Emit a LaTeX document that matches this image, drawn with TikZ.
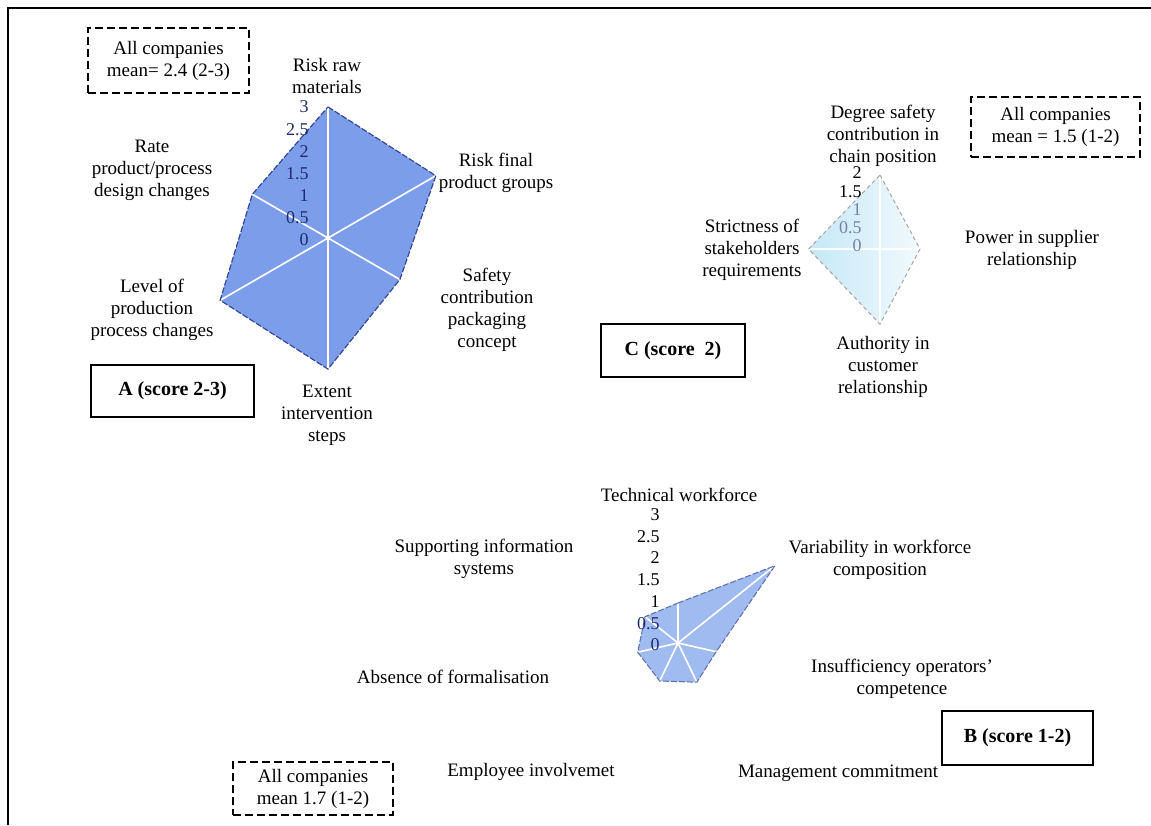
\documentclass[tikz,border=0pt]{standalone}
\usepackage{fontspec}
\setmainfont{Liberation Serif}
\usetikzlibrary{calc}
\definecolor{afill}{RGB}{124,158,234}
\definecolor{bfill}{RGB}{160,187,240}
\definecolor{cleft}{RGB}{196,232,248}
\definecolor{cright}{RGB}{242,250,253}
\definecolor{navy}{RGB}{32,42,110}
\definecolor{edgeblue}{RGB}{52,72,150}
\tikzset{
  lbl/.style={align=center, inner sep=0pt, font=\fontsize{9.5}{11}\selectfont},
  tick/.style={anchor=east, inner sep=0pt, font=\fontsize{9}{9}\selectfont},
  scorebox/.style={draw, line width=1.2pt, inner sep=0pt, font=\bfseries\fontsize{10}{12}\selectfont},
  meanbox/.style={draw, line width=1.1pt, dash pattern=on 4pt off 2pt, inner sep=0pt, align=center,
    font=\fontsize{9.5}{11}\selectfont},
  spoke/.style={white, line width=0.8pt},
  frameline/.style={line width=0.9pt}
}
\begin{document}
\begin{tikzpicture}[x=0.5pt,y=-0.5pt]
\useasboundingbox (0,0) rectangle (1151,825);
\fill[white] (0,0) rectangle (1151,825);

% outer frame (top and left edges)
\coordinate (ftl) at (8,8);
\coordinate (ftr) at (1151,8);
\coordinate (fbl) at (8,825);
\draw[frameline] (ftr) -- (ftl) -- (fbl);

% ---------- radar A (six axes) ----------
\coordinate (ac) at (328,238);
\foreach \i/\v in {0/3,1/2.85,2/1.9,3/3,4/2.85,5/2.0}{
  \path (ac) ++({43.7*\v*cos(90-60*\i)},{-43.7*\v*sin(90-60*\i)}) coordinate (a\i);
}
\fill[afill] (a0)--(a1)--(a2)--(a3)--(a4)--(a5)--cycle;
\foreach \i in {0,...,5} \draw[spoke] (ac)--(a\i);
\draw[edgeblue, line width=0.6pt, dash pattern=on 3pt off 1pt] (a0)--(a1)--(a2)--(a3)--(a4)--(a5)--cycle;
\foreach \t/\s in {0/0,0.5/0.5,1/1,1.5/1.5,2/2,2.5/2.5,3/3}{
  \node[tick, text=navy] at (309,{240-44.3*\t}) {\s};
}
\node[lbl] (araw)  at (327,76)  {Risk raw\\materials};
\node[lbl] (afin)  at (496,173) {Risk final\\product groups};
\node[lbl] (asaf)  at (487,310) {Safety\\contribution\\packaging\\concept};
\node[lbl] (aext)  at (327,415) {Extent\\intervention\\steps};
\node[lbl] (alev)  at (152,310) {Level of\\production\\process changes};
\node[lbl] (arate) at (152,170) {Rate\\product/process\\design changes};
\node[meanbox, minimum width=80.5pt, minimum height=32.5pt] (amean) at (168.5,60.5)
  {All companies\\mean= 2.4 (2-3)};
\node[scorebox, minimum width=81.5pt, minimum height=26pt] (ascore) at (172.5,391) {A (score 2-3)};

% ---------- radar C (four axes) ----------
\coordinate (cc) at (880,249);
\foreach \i/\v in {0/2,1/1.08,2/2.03,3/1.93}{
  \path (cc) ++({37*\v*cos(90-90*\i)},{-37*\v*sin(90-90*\i)}) coordinate (c\i);
}
\shade[left color=cleft, right color=cright] (c0)--(c1)--(c2)--(c3)--cycle;
\foreach \i in {0,...,3} \draw[white, line width=0.6pt] (cc)--(c\i);
\draw[gray!70, line width=0.5pt, dash pattern=on 2pt off 1.5pt] (c0)--(c1)--(c2)--(c3)--cycle;
\foreach \t/\s/\col in {0/0/navy!60,0.5/0.5/navy!60,1/1/navy!60,1.5/1.5/black,2/2/black}{
  \node[tick, text=\col] at (862,{246-36.5*\t}) {\s};
}
\node[lbl] (cdeg)  at (883,136)  {Degree safety\\contribution in\\chain position};
\node[lbl] (cpow)  at (1032,250) {Power in supplier\\relationship};
\node[lbl] (caut)  at (883,367)  {Authority in\\customer\\relationship};
\node[lbl] (cstr)  at (752,250)  {Strictness of\\stakeholders\\requirements};
\node[meanbox, minimum width=84.5pt, minimum height=30pt] (cmean) at (1055.5,127)
  {All companies\\mean = 1.5 (1-2)};
\node[scorebox, minimum width=72pt, minimum height=26.5pt] (cscore) at (673,350.5) {C (score\ \ 2)};

% ---------- radar B (seven axes) ----------
\coordinate (bc) at (678,643);
\foreach \i/\v in {0/0.92,1/2.85,2/0.9,3/1.0,4/0.97,5/0.95,6/0.97}{
  \path (bc) ++({43.5*\v*cos(90-360/7*\i)},{-43.5*\v*sin(90-360/7*\i)}) coordinate (b\i);
}
\fill[bfill] (b0)--(b1)--(b2)--(b3)--(b4)--(b5)--(b6)--cycle;
\foreach \i in {0,...,6} \draw[spoke] (bc)--(b\i);
\draw[edgeblue!80, line width=0.5pt, dash pattern=on 3pt off 1pt] (b0)--(b1)--(b2)--(b3)--(b4)--(b5)--(b6)--cycle;
\foreach \t/\s/\col in {0/0/navy,0.5/0.5/navy,1/1/black,1.5/1.5/black,2/2/black,2.5/2.5/black,3/3/black}{
  \node[tick, text=\col] at (660,{645-43.5*\t}) {\s};
}
\node[lbl] (btech) at (679,495) {Technical workforce};
\node[lbl] (bvar)  at (880,560) {Variability in workforce\\composition};
\node[lbl] (bins)  at (902,679) {Insufficiency operators'\\competence};
\node[lbl] (bman)  at (838,773) {Management commitment};
\node[lbl] (bemp)  at (531,772) {Employee involvemet};
\node[lbl] (babs)  at (453,677) {Absence of formalisation};
\node[lbl] (bsup)  at (484,559) {Supporting information\\systems};
\node[meanbox, minimum width=80pt, minimum height=26.5pt] (bmean) at (313,788.5)
  {All companies\\mean 1.7 (1-2)};
\node[scorebox, minimum width=75.5pt, minimum height=27pt] (bscore) at (1017.5,738) {B (score 1-2)};
\end{tikzpicture}
\end{document}
